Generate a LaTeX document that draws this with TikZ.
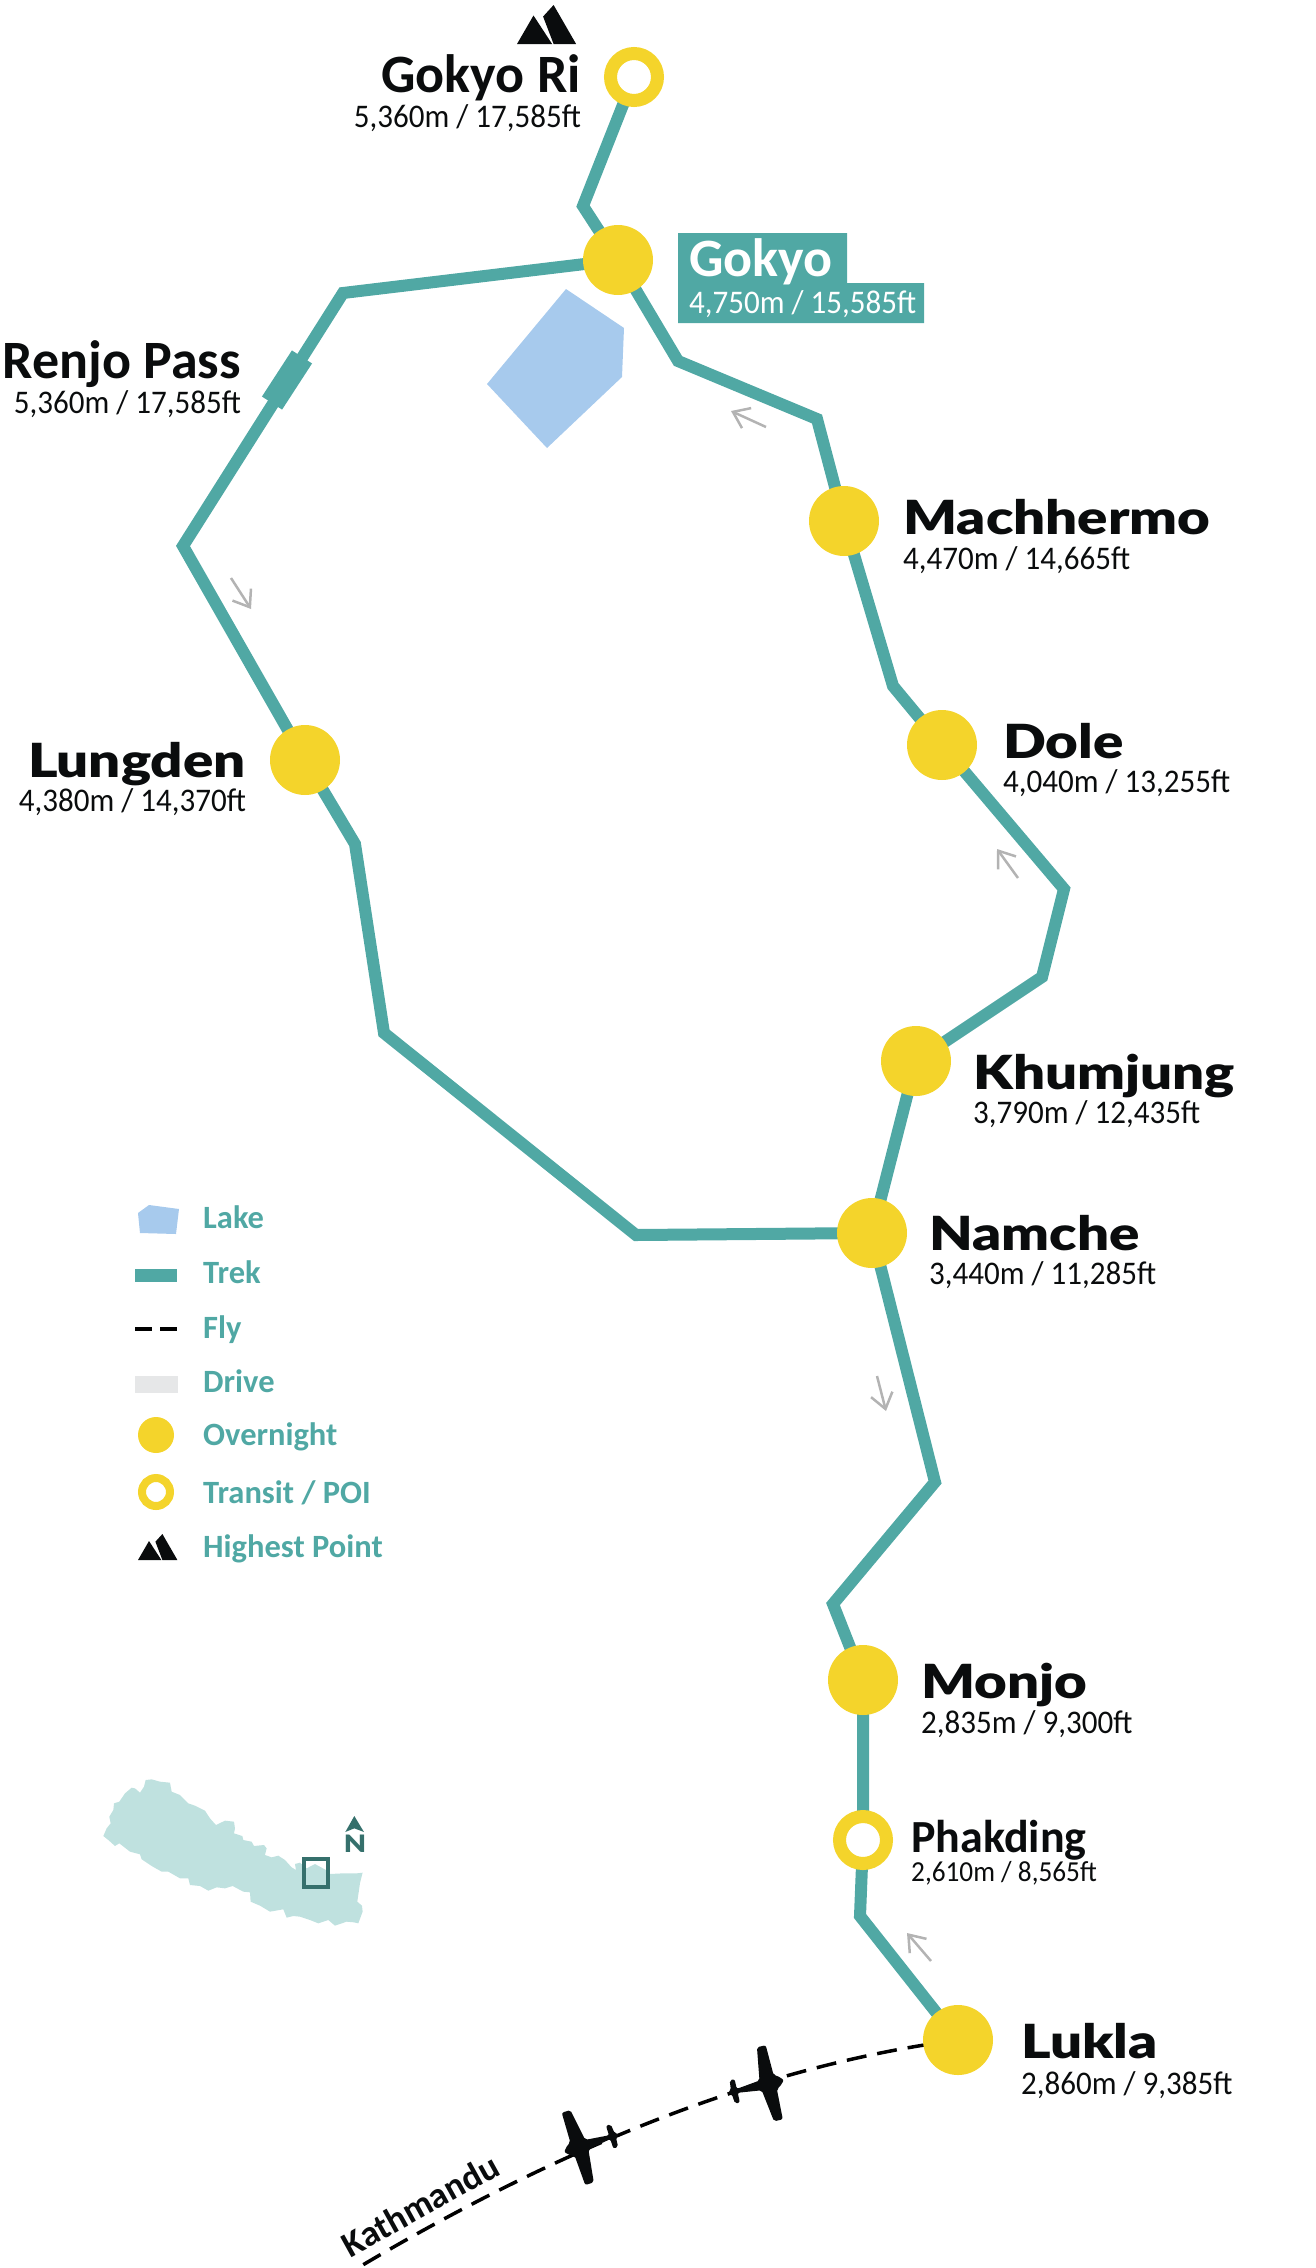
\documentclass[tikz,border=0pt]{standalone}
\usepackage{fontspec}
\usetikzlibrary{arrows.meta,backgrounds}
\setmainfont{Carlito}
\newfontfamily\blackfont[FakeStretch=1.2]{Lato Black}
\newfontfamily\elevfont[FakeStretch=0.94]{Carlito}

\definecolor{trekteal}{HTML}{50A8A4}
\definecolor{stopyellow}{HTML}{F4D42B}
\definecolor{lakeblue}{HTML}{A7CAED}
\definecolor{mapteal}{HTML}{BFE1DF}
\definecolor{mapdark}{HTML}{35706C}
\definecolor{drivegrey}{HTML}{E6E7E8}
\definecolor{inkblack}{HTML}{0A0C0D}
\definecolor{dirgrey}{HTML}{B3B3B3}

\tikzset{
	overnight/.style={circle, fill=stopyellow, inner sep=0, minimum size=70pt},
	transit/.style={circle, draw=stopyellow, fill=white, line width=13pt, inner sep=0, minimum size=47pt},
	trek/.style={draw=trekteal, line width=12pt, line join=miter},
	fly/.style={draw=black, line width=3.5pt, dash pattern=on 20pt off 11pt},
	dirarrow/.style={draw=dirgrey, line width=2.5pt, -{Straight Barb[length=15pt,width=22pt]}},
	bigname/.style={anchor=base west, inner sep=0, font=\blackfont\fontsize{47}{47}\selectfont, text=inkblack},
	midname/.style={anchor=base west, inner sep=0, font=\bfseries\fontsize{54}{54}\selectfont, text=inkblack},
	elev/.style={anchor=base west, inner sep=0, font=\elevfont\fontsize{33}{33}\selectfont, text=inkblack},
	legtext/.style={anchor=base west, inner sep=0, font=\bfseries\fontsize{32.5}{32.5}\selectfont, text=trekteal},
	mountains/.pic={
		\fill[inkblack] (0,26) -- (11,7) -- (23.4,26) -- cycle;
		\fill[inkblack] (17.4,7.7) -- (24.4,0) -- (39.4,26) -- (24.4,26) -- cycle;
	},
	plane/.pic={
		\fill[inkblack, rounded corners=2pt] (0,0) -- (-6,-6) -- (-9,-7) -- (-10,-38) -- (-19,-38) -- (-24,-5)
		-- (-48,-2) -- (-48,-12) -- (-53,-12) -- (-54,-2) -- (-58,0) -- (-54,2) -- (-53,12) -- (-48,12) -- (-48,2)
		-- (-24,5) -- (-19,38) -- (-10,38) -- (-9,7) -- (-6,6) -- cycle;
	},
}

\begin{document}
\begin{tikzpicture}[x=1pt, y=-1pt]
	\useasboundingbox (0,0) rectangle (1315,2268);

	\fill[lakeblue] (566,289) -- (624,328) -- (622,377) -- (547,448) -- (487,384) -- cycle;

	\node[transit] (gokyori) at (634,77) {};
	\node[overnight] (gokyo) at (618,260) {};
	\node[overnight] (machhermo) at (844,521) {};
	\node[overnight] (dole) at (942,745) {};
	\node[overnight] (khumjung) at (916,1061) {};
	\node[overnight] (namche) at (872,1233) {};
	\node[overnight] (lungden) at (305,760) {};
	\node[overnight] (monjo) at (863,1680) {};
	\node[transit] (phakding) at (863,1840) {};
	\node[overnight] (lukla) at (958,2040) {};

	\coordinate (gokyobend) at (583,206);
	\coordinate (renjotop) at (343,293);
	\coordinate (renjowest) at (183,546);
	\coordinate (lungdenA) at (355,844);
	\coordinate (lungdenB) at (384,1033);
	\coordinate (namchewest) at (636,1235);
	\coordinate (khumjungA) at (1042,977);
	\coordinate (khumjungB) at (1064,889);
	\coordinate (doleA) at (893,686);
	\coordinate (machhermoA) at (817,419);
	\coordinate (machhermoB) at (678,361);
	\coordinate (namchesouthA) at (935,1482);
	\coordinate (namchesouthB) at (833,1604);
	\coordinate (luklaA) at (860,1916);
	\coordinate (kathmandu) at (361,2266);

	\begin{scope}[on background layer]
		\draw[trek] (gokyori.center) -- (gokyobend) -- (gokyo.center) -- (renjotop) -- (renjowest) -- (lungden.center)
		-- (lungdenA) -- (lungdenB) -- (namchewest) -- (namche.center) -- (khumjung.center) -- (khumjungA)
		-- (khumjungB) -- (dole.center) -- (doleA) -- (machhermo.center) -- (machhermoA) -- (machhermoB) -- (gokyo.center);
		\draw[trek] (namche.center) -- (namchesouthA) -- (namchesouthB) -- (monjo.center) -- (phakding.center)
		-- (luklaA) -- (lukla.center);
		\draw[fly] (lukla.center) .. controls (760,2066) and (560,2148) .. (kathmandu);
	\end{scope}

	\node[fill=trekteal, rotate=57, inner sep=0, minimum width=55pt, minimum height=24pt] (renjo) at (287,380) {};

	\coordinate (dirAa) at (231,578);
	\coordinate (dirAb) at (251,609);
	\coordinate (dirBa) at (766,427);
	\coordinate (dirBb) at (731,411);
	\coordinate (dirCa) at (1018,878);
	\coordinate (dirCb) at (997,849);
	\coordinate (dirDa) at (877,1376);
	\coordinate (dirDb) at (886,1411);
	\coordinate (dirEa) at (931,1961);
	\coordinate (dirEb) at (907,1933);
	\draw[dirarrow] (dirAa) -- (dirAb);
	\draw[dirarrow] (dirBa) -- (dirBb);
	\draw[dirarrow] (dirCa) -- (dirCb);
	\draw[dirarrow] (dirDa) -- (dirDb);
	\draw[dirarrow] (dirEa) -- (dirEb);

	\pic[scale=1.5] (peak) at (517,5) {mountains};
	\node[midname, anchor=base east] (gokyoriname) at (581,92) {Gokyo Ri};
	\node[elev, anchor=base east] (gokyorielev) at (581,127) {5,360m / 17,585ft};

	\fill[trekteal] (678,233) -| (847,283) -| (924,323) -| cycle;
	\node[midname, text=white] (gokyoname) at (689,276) {Gokyo};
	\node[elev, text=white] (gokyoelev) at (689,313) {4,750m / 15,585ft};

	\node[midname, anchor=base east] (renjoname) at (241,378) {Renjo Pass};
	\node[elev, anchor=base east] (renjoelev) at (241,413) {5,360m / 17,585ft};

	\node[bigname] (machhermoname) at (903,534) {Machhermo};
	\node[elev] (machhermoelev) at (903,569) {4,470m / 14,665ft};
	\node[bigname] (dolename) at (1003,758) {Dole};
	\node[elev] (doleelev) at (1003,792) {4,040m / 13,255ft};
	\node[bigname, anchor=base east] (lungdenname) at (246,777) {Lungden};
	\node[elev, anchor=base east] (lungdenelev) at (246,811) {4,380m / 14,370ft};
	\node[bigname] (khumjungname) at (973,1089) {Khumjung};
	\node[elev] (khumjungelev) at (973,1123) {3,790m / 12,435ft};
	\node[bigname] (namchename) at (929,1250) {Namche};
	\node[elev] (namcheelev) at (929,1284) {3,440m / 11,285ft};
	\node[bigname] (monjoname) at (921,1698) {Monjo};
	\node[elev] (monjoelev) at (921,1733) {2,835m / 9,300ft};
	\node[midname, font=\bfseries\fontsize{46}{46}\selectfont] (phakdingname) at (911,1852) {Phakding};
	\node[elev, font=\elevfont\fontsize{29}{29}\selectfont] (phakdingelev) at (911,1881) {2,610m / 8,565ft};
	\node[bigname] (luklaname) at (1021,2058) {Lukla};
	\node[elev] (luklaelev) at (1021,2094) {2,860m / 9,385ft};

	\pic[rotate=13] (planeB) at (784,2080) {plane};
	\pic[rotate=198] (planeA) at (564,2152) {plane};
	\node[anchor=center, inner sep=0, rotate=29, text=inkblack, font=\bfseries\fontsize{36}{36}\selectfont] (kathmanduname) at (420,2205) {Kathmandu};

	\fill[lakeblue] (138,1213) -- (149,1205) -- (179,1209) -- (176,1234) -- (140,1233) -- cycle;
	\node[legtext] (leglake) at (203,1228) {Lake};
	\node[fill=trekteal, inner sep=0, minimum width=42pt, minimum height=13pt] (legtrek) at (156,1275) {};
	\node[legtext] (legtrekname) at (203,1283) {Trek};
	\coordinate (legflyA) at (135,1329);
	\coordinate (legflyB) at (177,1329);
	\draw[draw=black, line width=3.5pt, dash pattern=on 17pt off 8pt] (legflyA) -- (legflyB);
	\node[legtext] (legfly) at (203,1338) {Fly};
	\node[fill=drivegrey, inner sep=0, minimum width=43pt, minimum height=17pt] (legdrive) at (156,1384) {};
	\node[legtext] (legdrivename) at (203,1392) {Drive};
	\node[overnight, minimum size=36pt] (legovernight) at (156,1435) {};
	\node[legtext] (legovernightname) at (203,1445) {Overnight};
	\node[transit, minimum size=28pt, line width=8pt] (legtransit) at (156,1492) {};
	\node[legtext] (legtransitname) at (203,1503) {Transit / POI};
	\pic (leghigh) at (138,1534) {mountains};
	\node[legtext] (leghighname) at (203,1557) {Highest Point};

	\begin{scope}[shift={(80,1760)}, x=0.3333pt, y=-0.3333pt]
		\fill[mapteal] (70,228) -- (80,205) -- (92,190) -- (88,170) -- (100,150) -- (102,130) -- (118,125) -- (135,100)
		-- (155,83) -- (165,85) -- (180,98) -- (192,80) -- (197,60) -- (215,58) -- (240,65) -- (270,68) -- (275,95)
		-- (300,105) -- (325,130) -- (345,137) -- (375,152) -- (390,175) -- (408,195) -- (435,182) -- (462,185)
		-- (465,205) -- (462,220) -- (487,228) -- (490,240) -- (515,245) -- (522,258) -- (552,255) -- (560,265)
		-- (555,285) -- (575,292) -- (595,287) -- (615,300) -- (635,322) -- (648,330) -- (645,312) -- (660,308)
		-- (680,325) -- (705,312) -- (738,330) -- (750,342) -- (790,340) -- (830,340) -- (848,338) -- (840,370)
		-- (832,425) -- (846,437) -- (848,455) -- (835,490) -- (822,487) -- (800,485) -- (765,497) -- (745,480)
		-- (715,490) -- (690,480) -- (660,470) -- (640,468) -- (620,473) -- (610,448) -- (570,455) -- (540,437)
		-- (512,425) -- (510,397) -- (490,395) -- (458,378) -- (435,385) -- (410,382) -- (385,392) -- (360,378)
		-- (330,375) -- (325,355) -- (300,355) -- (265,335) -- (245,335) -- (215,318) -- (185,298) -- (180,283)
		-- (150,275) -- (118,250) -- (105,258) -- (85,240) -- cycle;
		\draw[draw=mapdark, line width=4pt] (672,298) rectangle (744,380);
		\fill[mapdark] (823,168) -- (852,216) -- (823,205) -- (796,216) -- cycle;
	\end{scope}
	\node[inner sep=0, text=mapdark, font=\blackfont\fontsize{24}{24}\selectfont] (mapnorth) at (355,1844) {N};
\end{tikzpicture}
\end{document}
